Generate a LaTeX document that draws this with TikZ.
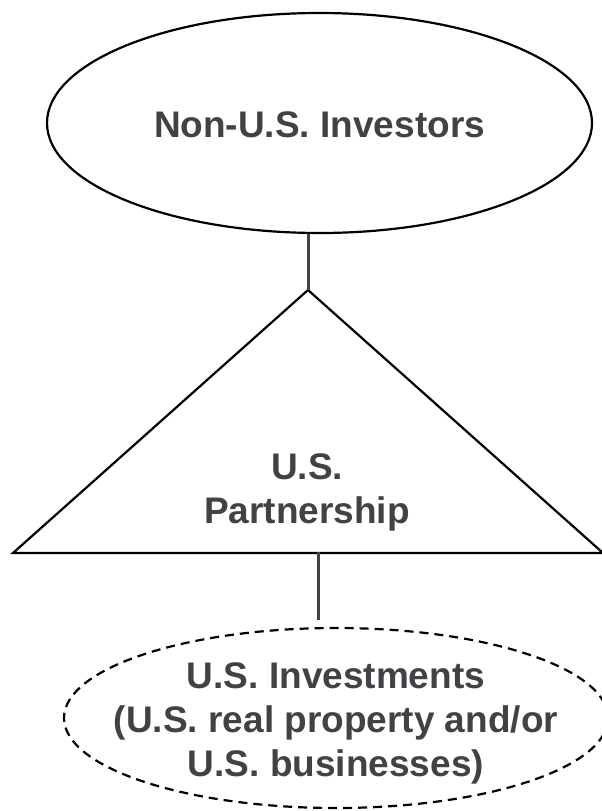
\documentclass[tikz,border=0pt]{standalone}
\usepackage{fontspec}
\setmainfont{Liberation Sans}
\usetikzlibrary{shapes.geometric}
\definecolor{inkgray}{RGB}{66,66,70}

\begin{document}
\begin{tikzpicture}[x=1pt,y=-1pt,
    shape line/.style={black,line width=2.2pt},
    link/.style={inkgray,line width=3pt},
    entity text/.style={inkgray,align=center,font=\bfseries\fontsize{37}{44}\selectfont}]
                \useasboundingbox (0,0) rectangle (602,811);
                \node[shape line,draw,ellipse,minimum width=545,minimum height=220,inner sep=0] (investors) at (319.5,123) {};
                \node[entity text] (investorstext) at (319.5,125) {Non-U.S. Investors};
                \coordinate (apex) at (308,290);
                \coordinate (baseleft) at (13,553);
                \coordinate (baseright) at (603,553);
                \draw[shape line,line join=miter] (apex)--(baseleft)--(baseright)--cycle;
                \node[entity text] (partnership) at (307,492) {U.S.\\Partnership};
                \node[shape line,draw,dash pattern=on 9pt off 6pt,ellipse,minimum width=544,minimum height=180,inner sep=0] (holdings) at (336,718) {};
                \node[entity text] (holdingstext) at (336,723) {U.S. Investments\\(U.S. real property and/or\\U.S. businesses)};
                \coordinate (basemid) at (318,552);
                \coordinate (holdingstop) at (318,620);
                \draw[link] (apex |- investors.south)--(apex);
                \draw[link] (basemid)--(holdingstop);
            \end{tikzpicture}
\end{document}
